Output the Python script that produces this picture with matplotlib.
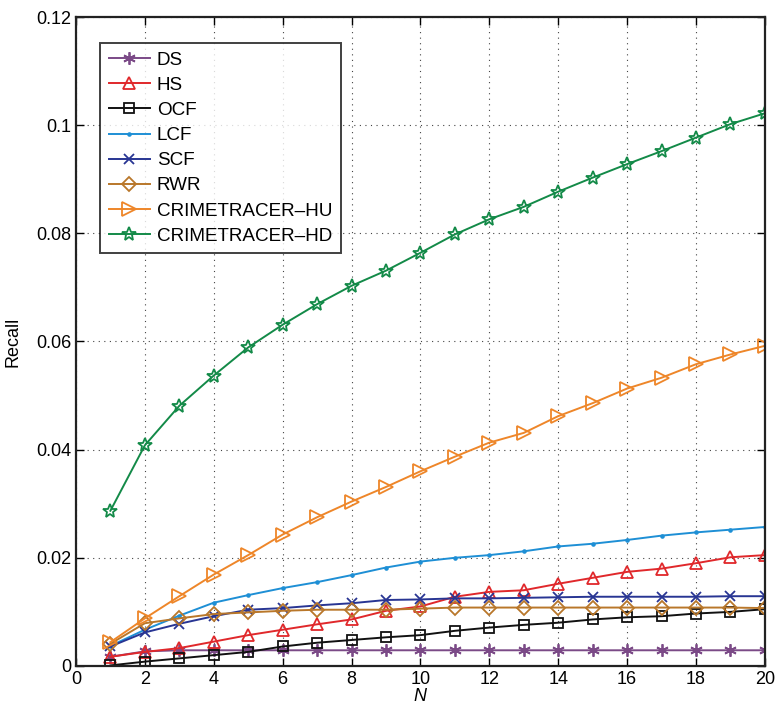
import numpy as np
import matplotlib
matplotlib.use("Agg")
import matplotlib.pyplot as plt

plt.rcParams['font.family'] = ['Liberation Sans', 'DejaVu Sans']

N = list(range(1, 21))

ds = [0.0017, 0.0027, 0.0029, 0.0029, 0.0029, 0.0029, 0.0029, 0.0029, 0.0029, 0.0029,
      0.0029, 0.0029, 0.0029, 0.0029, 0.0029, 0.0029, 0.0029, 0.0029, 0.0029, 0.0029]
hs = [0.0017, 0.0026, 0.0033, 0.0045, 0.0057, 0.0067, 0.0077, 0.0086, 0.0102, 0.0110,
      0.0128, 0.0137, 0.0140, 0.0152, 0.0163, 0.0174, 0.0180, 0.0190, 0.0201, 0.0205]
ocf = [0.0001, 0.0008, 0.0014, 0.0020, 0.0026, 0.0036, 0.0043, 0.0048, 0.0053, 0.0057,
       0.0065, 0.0071, 0.0076, 0.0080, 0.0086, 0.0090, 0.0092, 0.0097, 0.0100, 0.0105]
lcf = [0.0037, 0.0067, 0.0093, 0.0117, 0.0131, 0.0144, 0.0155, 0.0168, 0.0182, 0.0193,
       0.0200, 0.0205, 0.0212, 0.0221, 0.0226, 0.0233, 0.0241, 0.0247, 0.0252, 0.0257]
scf = [0.0036, 0.0062, 0.0078, 0.0092, 0.0104, 0.0107, 0.0112, 0.0116, 0.0122, 0.0123,
       0.0125, 0.0125, 0.0126, 0.0127, 0.0128, 0.0128, 0.0128, 0.0128, 0.0129, 0.0129]
rwr = [0.0041, 0.0079, 0.0088, 0.0096, 0.0099, 0.0102, 0.0104, 0.0104, 0.0104, 0.0106,
       0.0108, 0.0108, 0.0108, 0.0108, 0.0108, 0.0108, 0.0108, 0.0108, 0.0108, 0.0107]
hu = [0.0044, 0.0088, 0.0129, 0.0169, 0.0205, 0.0243, 0.0275, 0.0304, 0.0331, 0.0360,
      0.0387, 0.0413, 0.0431, 0.0462, 0.0486, 0.0513, 0.0533, 0.0558, 0.0576, 0.0592]
hd = [0.0287, 0.0408, 0.0481, 0.0537, 0.0589, 0.0631, 0.0669, 0.0703, 0.0731, 0.0764,
      0.0798, 0.0826, 0.0849, 0.0877, 0.0903, 0.0928, 0.0952, 0.0977, 0.1002, 0.1022]

fig = plt.figure(figsize=(7.75, 7.09), dpi=100)
ax = fig.add_axes([0.098, 0.0607, 0.889, 0.9153])

asterisk = (6, 2, 0)
# name, values, colour, marker, marker size
series = [
    ("DS", ds, "#7B4A87", asterisk, 9),
    ("HS", hs, "#E0282B", "^", 9),
    ("OCF", ocf, "#111111", "s", 7),
    ("LCF", lcf, "#1E8FD5", ".", 4),
    ("SCF", scf, "#283593", "x", 7),
    ("RWR", rwr, "#B9772A", "D", 7),
    ("CRIMETRACER\u2013HU", hu, "#EE8629", ">", 10),
    ("CRIMETRACER\u2013HD", hd, "#138A48", "*", 10),
]

for name, vals, col, mk, ms in series:
    filled = mk == "."
    ax.plot(N, vals, color=col, marker=mk, markersize=ms, linewidth=1.4,
            markerfacecolor=col if filled else "none",
            markeredgecolor=col, markeredgewidth=1.3, label=name)

ax.set_xlim(0, 20)
ax.set_ylim(0, 0.12)
ax.set_xticks(range(0, 21, 2))
ax.set_yticks([0, 0.02, 0.04, 0.06, 0.08, 0.1, 0.12])
ax.set_yticklabels(["0", "0.02", "0.04", "0.06", "0.08", "0.1", "0.12"])
ax.grid(True, linestyle=(0, (1, 4)), color="#444444", linewidth=0.8)
ax.tick_params(direction="in", top=True, right=True, labelsize=13, length=6, width=1)
for s in ax.spines.values():
    s.set_linewidth(1.6)
    s.set_color("#222222")

ax.set_xlabel("N", fontsize=13, style="italic", labelpad=0)
ax.set_ylabel("Recall", fontsize=13, labelpad=10)

leg = ax.legend(loc="upper left", bbox_to_anchor=(0.035, 0.96), borderaxespad=0,
                fontsize=13.6, frameon=True, fancybox=False, edgecolor="#111111",
                handlelength=2.2, borderpad=0.45, labelspacing=0.42, handletextpad=0.35)
leg.get_frame().set_linewidth(1.4)

fig.savefig("out.png", dpi=100)
